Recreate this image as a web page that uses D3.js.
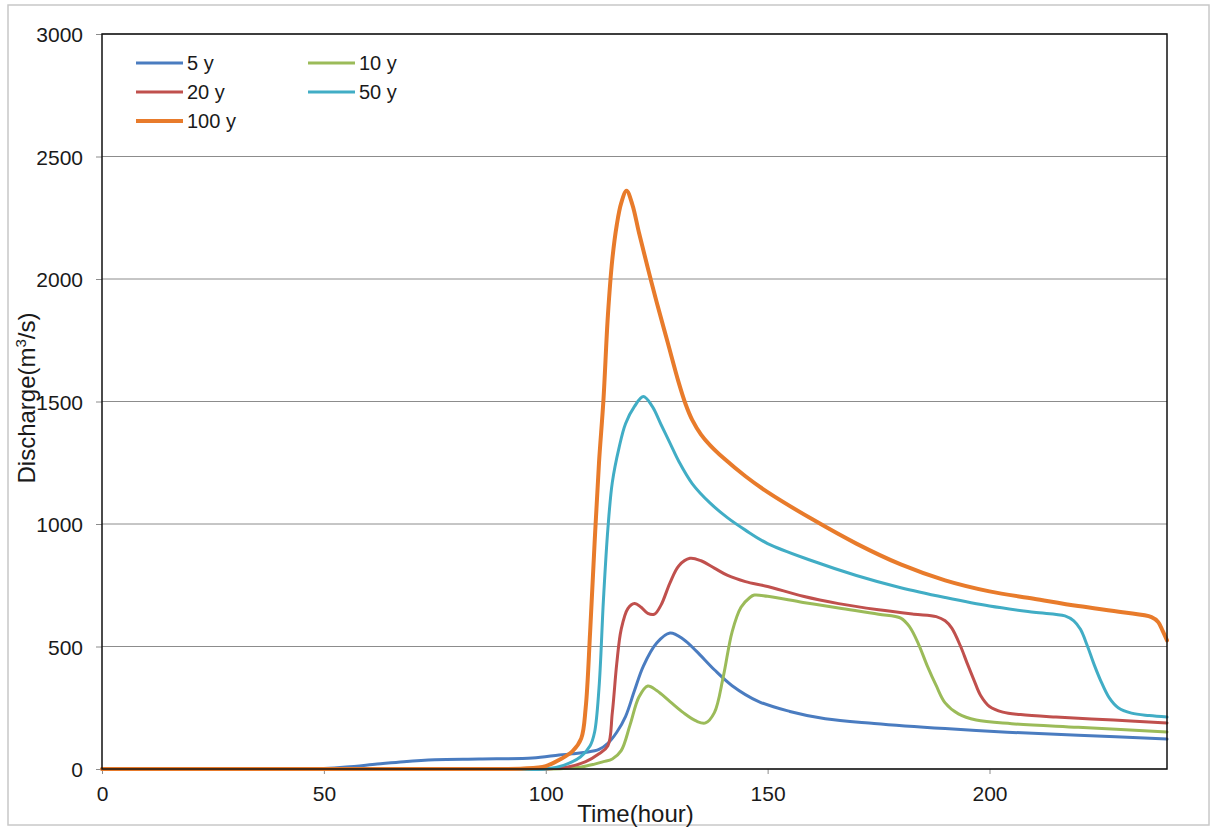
<!DOCTYPE html>
<html>
<head>
<meta charset="utf-8">
<script src="https://cdn.jsdelivr.net/npm/d3@7"></script>
<style>
  body { margin: 0; background: #fff; }
  svg { font-family: "Liberation Sans", Arial, sans-serif; }
</style>
</head>
<body>
<div id="chart"></div>
<script>
// ---- data (time in hours, discharge in m3/s) ----
var t5  = [0, 20, 40, 46, 50, 55, 62, 68, 75, 85, 97, 103, 106, 109, 112, 114, 116, 118, 120, 122, 125, 128, 131, 134, 138, 142, 148, 155, 163, 174, 190, 204, 220, 240];
var q5  = [0, 0, 0, 0, 2, 8, 20, 30, 38, 41, 45, 57, 62, 68, 80, 105, 150, 215, 320, 420, 514, 555, 530, 480, 405, 340, 275, 235, 205, 186, 165, 150, 138, 122];

var t10 = [0, 30, 60, 90, 100, 104, 108, 111, 113, 115, 117, 119, 121, 123, 125, 128, 131, 134, 136, 138, 140, 142, 144, 146, 147, 150, 158, 166, 175, 180, 182, 184, 186, 188, 190, 193, 197, 205, 220, 240];
var q10 = [0, 0, 0, 0, 0, 2, 8, 20, 30, 41, 75, 180, 294, 339, 320, 275, 230, 195, 188, 230, 376, 560, 660, 700, 710, 705, 680, 657, 632, 616, 580, 510, 420, 340, 270, 225, 200, 185, 170, 151];

var t20 = [0, 30, 60, 90, 100, 105, 109, 112, 114, 115, 116, 117, 118.5, 120, 121.5, 123, 124.5, 126, 128, 130, 132.5, 135, 138, 141, 145, 150, 158, 166, 175, 183, 188, 190, 191.5, 193.5, 195, 196.5, 198, 200, 203, 207, 215, 228, 240];
var q20 = [0, 0, 0, 0, 0, 8, 30, 62, 95, 230, 430, 570, 655, 676, 660, 635, 632, 670, 760, 830, 860, 850, 820, 790, 765, 745, 705, 675, 650, 632, 622, 605, 575, 500, 430, 363, 300, 255, 232, 222, 212, 200, 188];

var t50 = [0, 30, 60, 90, 100, 104, 107.8, 110, 111, 112, 113, 114, 115, 116.5, 118, 120, 122, 124, 126, 128, 130, 133, 137, 141, 145, 150, 160, 170, 180, 190, 200, 210, 217, 219, 220.5, 222, 223.5, 225, 227, 229, 232, 236, 240];
var q50 = [0, 0, 0, 0, 0, 15, 49, 95, 150, 330, 690, 980, 1170, 1310, 1410, 1480, 1520, 1480, 1405, 1330, 1255, 1165, 1086, 1025, 975, 920, 850, 790, 740, 700, 665, 640, 625, 605, 570, 505, 430, 363, 290, 250, 228, 218, 212];

var t100 = [0, 30, 60, 85, 95, 100, 103, 106, 108, 109, 110, 111, 112, 113, 114, 115, 116, 117, 118.2, 119.5, 121, 123, 125, 127.5, 130, 131.5, 133, 135, 137, 140, 145, 150, 160, 170, 180, 190, 200, 210, 220, 230, 236.5, 238, 239, 240];
var q100 = [0, 0, 0, 0, 2, 12, 37, 72, 125, 250, 560, 920, 1250, 1506, 1850, 2080, 2220, 2310, 2360, 2305, 2190, 2045, 1905, 1740, 1575, 1490, 1425, 1365, 1322, 1270, 1195, 1130, 1020, 920, 835, 770, 725, 695, 665, 640, 620, 600, 565, 525];

var seriesNames = ["5 y", "10 y", "20 y", "50 y", "100 y"];
var seriesColors = ["#4a7cc0", "#9bbb59", "#c0504d", "#41adc5", "#e87b2b"];
var xTicks = [0, 50, 100, 150, 200];
var yTicks = [0, 500, 1000, 1500, 2000, 2500, 3000];

var seriesT = [t5, t10, t20, t50, t100];
var seriesQ = [q5, q10, q20, q50, q100];

// ---- canvas ----
var W = 1213, H = 828;
var margin = {top: 34, right: 46, bottom: 59, left: 102},
    width = W - margin.left - margin.right,
    height = H - margin.top - margin.bottom;

var root = d3.select("#chart").append("svg")
    .attr("width", W)
    .attr("height", H);

// light outer frame like the source image
root.append("rect")
    .attr("x", 8).attr("y", 5)
    .attr("width", 1201).attr("height", 820)
    .attr("fill", "none")
    .attr("stroke", "#c8c8c8")
    .attr("stroke-width", 1.5);

var svg = root.append("g")
    .attr("transform", "translate(" + margin.left + "," + margin.top + ")");

var xScale = d3.scaleLinear().domain([0, 240]).range([0, width]);
var yScale = d3.scaleLinear().domain([0, 3000]).range([height, 0]);

// gridlines
svg.append("g")
    .attr("class", "grid")
    .selectAll("line")
    .data(yTicks)
    .enter().append("line")
      .attr("x1", 0).attr("x2", width)
      .attr("y1", d => yScale(d)).attr("y2", d => yScale(d))
      .attr("stroke", "#8c8c8c")
      .attr("stroke-width", 1);

// axes
var xAxis = d3.axisBottom(xScale).tickValues(xTicks).tickFormat(d3.format("d"))
    .tickSize(5).tickPadding(12);
var yAxis = d3.axisLeft(yScale).tickValues(yTicks).tickFormat(d3.format("d"))
    .tickSize(6).tickPadding(13);

var gx = svg.append("g")
    .attr("transform", "translate(0," + height + ")")
    .call(xAxis);
var gy = svg.append("g").call(yAxis);

[gx, gy].forEach(g => {
    g.select(".domain").remove();
    g.selectAll(".tick line").attr("stroke", "#8c8c8c");
    g.selectAll(".tick text")
        .attr("fill", "#1a1a1a")
        .style("font-size", "21px");
});
gy.selectAll(".tick text").attr("dy", "0.36em");

// series lines
var line = d3.line()
    .x(d => xScale(d[0]))
    .y(d => yScale(Math.max(0, d[1])))
    .curve(d3.curveCatmullRom.alpha(0.5));

seriesNames.forEach((name, i) => {
    var pts = seriesT[i].map((t, j) => [t, seriesQ[i][j]]);
    svg.append("path")
        .datum(pts)
        .attr("fill", "none")
        .attr("stroke", seriesColors[i])
        .attr("stroke-width", i === 4 ? 4 : 3)
        .attr("stroke-linejoin", "round")
        .attr("stroke-linecap", "round")
        .attr("d", line);
});

// plot border
svg.append("rect")
    .attr("width", width).attr("height", height)
    .attr("fill", "none")
    .attr("stroke", "#111")
    .attr("stroke-width", 1.5);

// legend
var legendPos = [[34, 29], [206, 29], [34, 58], [206, 58], [34, 87]];
seriesNames.forEach((name, i) => {
    var lg = svg.append("g")
        .attr("transform", "translate(" + legendPos[i][0] + "," + legendPos[i][1] + ")");
    lg.append("line")
        .attr("x1", 0).attr("x2", 47)
        .attr("stroke", seriesColors[i])
        .attr("stroke-width", i === 4 ? 4 : 3);
    lg.append("text")
        .attr("x", 51).attr("y", 7)
        .style("font-size", "20px")
        .attr("fill", "#1a1a1a")
        .text(name);
});

// axis titles
root.append("text")
    .attr("x", margin.left + width / 2 + 1)
    .attr("y", 822)
    .attr("text-anchor", "middle")
    .style("font-size", "24px")
    .attr("fill", "#1a1a1a")
    .text("Time(hour)");

var yt = root.append("text")
    .attr("transform", "translate(35,398) rotate(-90)")
    .attr("text-anchor", "middle")
    .style("font-size", "24px")
    .attr("fill", "#1a1a1a");
yt.append("tspan").text("Discharge(m");
yt.append("tspan").attr("dy", -9).style("font-size", "15px").text("3");
yt.append("tspan").attr("dy", 9).text("/s)");
</script>
</body>
</html>
